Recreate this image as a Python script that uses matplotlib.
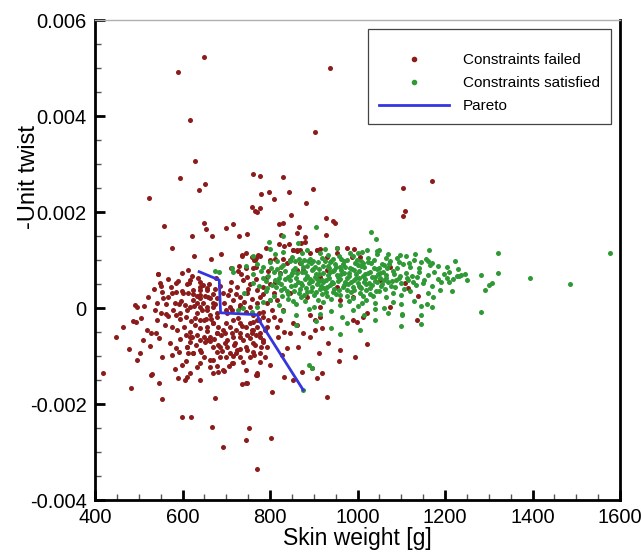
import numpy as np
import matplotlib
matplotlib.use("Agg")
import matplotlib.pyplot as plt
from matplotlib.lines import Line2D
from matplotlib.ticker import MultipleLocator, FixedLocator, FixedFormatter

# ---------------- data (skin weight [g], -unit twist in units of 1e-3) ----------------
failed = [
    # upper outliers
    (523, 2.30), (590, 4.92), (650, 5.22), (617, 3.92), (629, 3.07), (594, 2.70), (651, 2.58),
    (638, 2.46), (558, 1.70), (650, 1.78), (653, 1.64), (622, 1.49), (667, 1.51), (700, 1.67),
    (716, 1.76), (728, 1.51), (748, 1.54), (760, 2.79), (777, 2.76), (780, 2.37), (798, 2.42),
    (808, 2.27), (758, 2.11), (771, 1.99), (777, 2.08), (766, 2.03), (830, 2.72), (843, 2.42),
    (848, 1.94), (820, 1.76), (830, 1.78), (825, 1.53), (861, 1.56), (866, 1.69), (880, 1.48),
    (882, 2.19), (898, 2.48), (903, 3.67), (938, 4.99), (928, 1.88), (945, 1.81), (949, 1.78),
    (928, 1.52), (1103, 2.50), (1170, 2.65), (1109, 2.02), (1103, 1.91),
    # upper middle
    (820, 1.33), (831, 1.30), (844, 1.33), (870, 1.36), (880, 1.38), (907, 1.21), (952, 1.24),
    (975, 1.26), (991, 1.22), (853, 1.20), (862, 1.19), (576, 1.26), (627, 1.09), (665, 1.03),
    (688, 1.13), (735, 1.10), (758, 1.07), (777, 1.08), (791, 1.26), (869, 1.21), (891, 1.14),
    (914, 1.22), (930, 1.07), (987, 1.07), (1006, 1.07), (1074, 0.86), (736, 1.08), (744, 1.14),
    (763, 1.00), (767, 1.05), (730, 0.875), (711, 0.83), (726, 0.77), (746, 0.83), (762, 0.83),
    (769, 0.86), (544, 0.708), (549, 0.514), (551, 0.458), (590, 0.569), (599, 0.722),
    (543, 0.70), (622, 0.66),
    # right side
    (1135, -0.25), (1138, 0.26), (1116, 0.41), (1109, 0.52),
    # bottom outliers
    (599, -2.28), (620, -2.28), (667, -2.47), (752, -2.50), (744, -2.76), (802, -2.70),
    (692, -2.90), (771, -3.35), (554, -1.90), (674, -1.87), (547, -1.56),
    # left cluster
    (573, 0.43), (615, 0.514), (640, 0.55), (647, 0.48), (655, 0.41), (640, 0.375), (520, 0.236),
    (491, 0.063), (496, 0.028), (554, 0.34), (567, 0.236), (556, 0.20), (575, 0.305), (586, 0.34),
    (598, 0.36), (613, 0.305), (624, 0.29), (632, 0.25), (640, 0.20), (659, 0.236), (670, 0.29),
    (678, 0.20), (674, 0.39), (542, 0.10), (563, 0.09), (582, 0.11), (591, 0.08), (605, 0.063),
    (617, 0.028), (632, 0.097), (647, 0.10), (656, 0.028), (669, 0.014), (674, 0.09),
    (550, -0.111), (563, -0.12), (567, -0.167), (586, -0.146), (594, -0.236), (609, -0.18),
    (632, -0.111), (640, -0.25), (653, -0.236), (663, -0.146), (678, -0.111),
    (487, -0.264), (493, -0.299), (541, -0.25), (575, -0.389), (588, -0.458), (617, -0.493),
    (628, -0.354), (640, -0.424), (656, -0.389), (670, -0.306),
    (448, -0.597), (529, -0.528), (539, -0.528), (509, -0.667),
    (594, -0.653), (609, -0.563), (621, -0.597), (617, -0.701), (640, -0.667), (651, -0.701),
    (663, -0.681), (678, -0.528), (689, -0.563), (682, -0.771), (697, -0.736),
    (502, -0.944), (496, -1.083), (552, -1.014), (575, -0.979), (586, -0.84), (611, -0.806),
    (613, -0.944), (624, -0.944), (643, -0.910), (663, -1.083), (678, -0.910),
    (582, -1.27), (598, -1.187), (632, -1.222), (678, -1.208), (682, -1.326), (694, -1.306),
    (700, -1.014), (716, -1.0), (712, -1.139), (723, -0.944), (731, -0.861),
    (527, -1.396), (531, -1.382), (590, -1.451), (605, -1.5), (419, -1.361), (483, -1.674),
    (735, -1.583), (746, -1.57), (769, -1.396),
    (723, -0.458), (720, -0.736), (746, -0.806), (739, -1.118), (762, -0.91), (731, -0.597),
    (700, -0.32), (712, -0.528), (700, -0.042), (731, 0.063), (746, -0.076), (716, -0.25),
    (746, -0.389), (758, -0.458), (769, -0.563), (775, -0.25), (762, -0.146),
    (465, -0.40), (478, -0.85), (505, -0.20), (512, 0.05), (518, -0.45), (525, -0.80),
    (534, 0.40), (538, -0.05), (546, -0.62), (560, -0.35), (566, 0.60), (571, -0.72),
    (579, -0.05), (584, 0.52), (593, -0.92), (597, 0.15), (603, -0.40), (607, -1.10),
    (612, 0.80), (619, -0.28), (626, 0.05), (631, -0.78), (636, 0.62), (644, -0.05),
    (648, -1.02), (652, 0.26), (657, -0.48), (661, 0.50), (666, -0.22), (672, -0.65),
    (676, 0.62), (681, -0.40), (685, 0.45), (690, -0.90), (695, 0.10), (698, -0.52),
    (703, 0.28), (707, -1.20), (710, 0.55), (714, -0.05), (718, -0.78), (722, 0.30),
    (727, -0.20), (733, 0.70), (737, -0.38), (741, 0.12), (744, -1.30), (750, 0.40),
    (755, -0.62), (759, 0.18), (764, -0.98), (768, 0.60), (774, -0.10), (779, -0.82),
    (783, 0.30), (788, -0.45), (795, 0.78), (805, -0.05), (812, 0.55), (818, -0.60),
    # lower middle / right
    (762, -0.285), (770, -0.389), (758, -0.528), (777, -0.597), (766, -0.77), (785, -0.70),
    (789, -1.014), (777, -1.118), (800, -1.187), (770, -1.396), (804, -1.74), (831, -1.43),
    (838, -0.84), (827, -0.979), (853, -1.50), (872, -1.326), (895, -1.257), (918, -1.347),
    (907, -1.465), (930, -1.847), (911, -0.944), (933, -0.736), (960, -0.875), (958, -1.104),
    (994, -1.014), (1021, -0.75), (865, -0.806), (876, -0.528), (891, -0.597), (903, -0.458),
    (918, -0.424), (846, -0.528), (831, -0.493), (815, -0.389), (853, -0.32), (861, -0.354),
    (808, -0.18), (785, -0.076), (796, -0.25), (891, -0.146), (903, -0.25), (914, -0.18),
    (998, -0.285), (1013, -0.18),
    # central mixed zone
    (610, 0.51), (617, 0.58), (602, 0.31), (625, 0.375), (640, 0.445), (640, 0.27), (655, 0.375),
    (625, 0.167), (663, 0.20), (670, 0.097), (640, 0.028), (655, -0.042), (610, -0.042),
    (594, -0.111), (628, -0.215), (648, -0.25), (670, -0.32), (678, -0.18), (701, -0.111),
    (709, 0.028), (716, 0.167), (709, 0.375), (693, 0.306), (724, 0.445), (739, 0.58),
    (747, 0.65), (754, 0.51), (747, 0.306), (731, 0.236), (731, 0.028), (754, 0.028),
    (770, 0.097), (777, 0.236), (770, 0.375), (785, 0.445), (792, 0.65), (800, 0.51),
    (808, 0.306), (800, 0.167), (792, 0.097), (785, -0.18), (770, -0.25), (754, -0.32),
    (731, -0.32), (709, -0.389), (693, -0.458), (678, -0.528), (663, -0.597), (655, -0.667),
    (632, -0.56), (617, -0.597), (610, -0.806), (625, -0.944), (640, -0.875), (648, -0.597),
    (670, -0.806), (686, -0.806), (701, -0.667), (716, -0.597), (731, -0.528), (747, -0.56),
    (762, -0.458), (777, -0.528), (792, -0.389), (823, -0.25), (990, -0.25),
    (785, -0.667), (762, -0.736), (747, -0.875), (739, -0.667), (724, -0.875), (709, -0.944),
    (701, -0.806), (686, -1.014), (670, -1.083), (663, -1.222), (640, -1.153), (617, -1.36),
    (610, -1.43), (640, -1.50), (670, -1.36), (693, -1.29), (716, -1.153), (731, -1.014),
    (754, -1.014), (777, -0.944), (792, -0.806), (770, -1.36), (747, -1.57),
    # reds inside the feasible cloud
    (762, 1.07), (766, 1.00), (773, 1.10), (800, 1.00), (811, 1.03), (830, 1.03), (838, 0.93),
    (853, 1.21), (861, 1.21), (869, 0.93), (876, 0.79), (907, 1.21), (930, 0.79), (952, 1.14),
    (846, 1.00), (861, 0.79), (823, 0.72), (914, 0.65), (952, 0.445), (960, 0.167), (914, 0.028),
    (884, 0.236), (846, 0.306), (815, 0.167), (830, -0.042), (990, 0.236), (1021, -0.111),
    (1074, 0.028), (1006, 0.445), (1051, 0.58),
]

satisfied = [
    (798, 1.38), (800, 1.22), (865, 1.35), (884, 1.21), (926, 1.22), (952, 1.26), (983, 1.14),
    (1021, 1.21), (1031, 1.59), (1042, 1.44), (1045, 1.19), (1064, 1.04), (1044, 1.13),
    (1097, 1.10), (1128, 1.00), (1132, 1.12), (1157, 1.03), (1164, 1.21), (1162, 0.98),
    (1170, 0.93), (1222, 0.97), (1320, 1.14), (1578, 1.14), (904, 1.69), (830, 1.50), (830, 1.17),
    (891, 1.02), (933, 1.10), (1002, 1.14), (1025, 1.04), (1048, 1.21), (914, 1.14), (945, 1.02),
    (968, 0.97), (998, 1.01), (760, 1.08), (812, 1.12), (850, 1.06), (872, 1.15), (958, 1.09),
    (1010, 1.17), (1070, 1.12), (1090, 1.05), (1110, 1.08),
    (712, 0.83), (745, 0.88), (770, 0.92), (785, 0.85), (800, 0.95), (815, 0.82), (830, 0.90),
    (845, 0.97), (858, 0.84), (870, 0.93), (885, 0.88), (898, 0.81), (910, 0.96), (922, 0.87),
    (935, 0.83), (948, 0.92), (960, 0.86), (975, 0.99), (988, 0.82), (1000, 0.90), (1015, 0.85),
    (1030, 0.94), (1045, 0.81), (1060, 0.89), (1075, 0.97), (1090, 0.84), (1105, 0.92),
    (1120, 0.86), (1140, 0.83), (1165, 0.90), (1183, 0.88), (1205, 0.85), (1230, 0.82),
    (878, 0.99), (940, 0.97), (1008, 0.98),
    (674, 0.78), (684, 0.74), (716, 0.76), (762, 0.70), (780, 0.78), (795, 0.66), (808, 0.74),
    (820, 0.62), (835, 0.77), (848, 0.69), (860, 0.63), (872, 0.75), (884, 0.67), (896, 0.79),
    (908, 0.61), (920, 0.72), (932, 0.68), (944, 0.77), (956, 0.64), (968, 0.73), (980, 0.66),
    (992, 0.79), (1004, 0.62), (1016, 0.71), (1028, 0.76), (1040, 0.65), (1052, 0.73),
    (1066, 0.68), (1080, 0.77), (1095, 0.63), (1110, 0.72), (1125, 0.66), (1140, 0.75),
    (1160, 0.69), (1183, 0.60), (1209, 0.76), (1232, 0.67), (1245, 0.70), (1282, 0.69),
    (1320, 0.72), (1394, 0.63), (1227, 0.66), (1237, 0.68), (1204, 0.63), (850, 0.72),
    (905, 0.70), (962, 0.70), (1012, 0.66),
    (760, 0.52), (775, 0.45), (790, 0.57), (805, 0.48), (818, 0.55), (832, 0.42), (845, 0.58),
    (858, 0.47), (870, 0.53), (882, 0.41), (895, 0.56), (907, 0.49), (919, 0.59), (931, 0.44),
    (943, 0.52), (955, 0.57), (967, 0.43), (979, 0.50), (991, 0.58), (1003, 0.46), (1015, 0.54),
    (1028, 0.41), (1041, 0.57), (1055, 0.49), (1070, 0.55), (1085, 0.44), (1100, 0.52),
    (1116, 0.58), (1133, 0.47), (1150, 0.53), (1170, 0.45), (1210, 0.54), (1301, 0.48),
    (1307, 0.52), (1292, 0.38), (1486, 0.49), (825, 0.50), (880, 0.60), (938, 0.48),
    (1060, 0.59), (990, 0.44),
    (740, 0.32), (790, 0.35), (808, 0.26), (825, 0.38), (840, 0.29), (855, 0.36), (870, 0.22),
    (885, 0.33), (900, 0.27), (915, 0.39), (930, 0.24), (945, 0.34), (960, 0.28), (975, 0.37),
    (990, 0.21), (1005, 0.31), (1020, 0.38), (1035, 0.26), (1050, 0.35), (1066, 0.23),
    (1082, 0.32), (1100, 0.27), (1120, 0.36), (1161, 0.31), (1173, 0.22), (1189, 0.38),
    (1215, 0.35), (918, 0.30), (868, 0.40), (1012, 0.25),
    (770, 0.03), (785, 0.13), (800, 0.16), (820, 0.06), (840, 0.18), (860, 0.09), (880, 0.14),
    (900, 0.02), (920, 0.12), (940, 0.19), (960, 0.07), (980, 0.15), (1000, 0.04), (1020, 0.17),
    (1040, 0.10), (1060, 0.01), (1080, 0.13), (1100, 0.08), (1130, 0.15), (1158, 0.09),
    (1170, 0.02), (1146, 0.05), (910, 0.17), (1010, 0.11),
    (727, -0.04), (739, -0.01), (758, -0.08), (830, -0.06), (860, -0.15), (890, -0.03),
    (915, -0.12), (940, -0.07), (965, -0.18), (990, -0.05), (1015, -0.14), (1040, -0.02),
    (1070, -0.10), (1101, -0.12), (1146, -0.14), (1282, -0.08), (1101, -0.15),
    (860, -0.35), (905, -0.28), (940, -0.42), (975, -0.31), (1005, -0.46), (1040, -0.25),
    (1100, -0.38), (1144, -0.33), (888, -1.19), (895, -1.24), (876, -1.71), (960, -0.55),
    (826, 0.86), (842, 0.64), (856, 0.98), (864, 0.55), (876, 0.85), (889, 0.52), (893, 0.94),
    (902, 0.64), (912, 0.82), (916, 0.46), (925, 0.97), (928, 0.58), (937, 0.74), (946, 0.40),
    (951, 0.86), (959, 0.61), (966, 0.92), (972, 0.54), (983, 0.83), (986, 0.34), (996, 0.70),
    (1001, 0.52), (1007, 0.88), (1018, 0.61), (1023, 0.96), (1034, 0.48), (1037, 0.83),
    (1047, 0.70), (1057, 0.91), (1063, 0.40), (813, 0.44), (822, 0.70), (838, 0.35), (853, 0.80),
    (867, 0.32), (880, 0.76), (894, 0.36), (898, 0.98), (911, 0.56), (924, 0.42), (933, 0.88),
    (950, 0.30), (963, 0.79), (977, 0.63), (994, 0.93), (1026, 0.53), (1043, 0.36), (1052, 0.62),
    (1068, 0.84), (1078, 0.56),
    (785, 0.62), (792, 0.41), (803, 0.83), (811, 0.58), (817, 0.97), (828, 0.25), (834, 0.60),
    (849, 0.45), (852, 0.15), (861, 0.72), (866, 1.03), (874, 0.47), (878, 0.28), (886, 0.97),
    (891, 0.60), (897, 0.44), (903, 0.85), (906, 0.33), (913, 0.70), (918, 1.05), (921, 0.55),
    (927, 0.33), (934, 0.63), (936, 0.96), (942, 0.55), (947, 0.80), (953, 0.68), (957, 0.38),
    (962, 1.02), (969, 0.48), (971, 0.85), (976, 0.26), (981, 0.72), (985, 0.55), (989, 1.08),
    (993, 0.37), (997, 0.62), (1003, 0.78), (1009, 0.42), (1013, 0.93), (1019, 0.50),
    (1024, 0.73), (1029, 0.30), (1033, 0.64), (1038, 0.99), (1044, 0.55), (1049, 0.83),
    (1054, 0.45), (1059, 0.75), (1065, 0.62), (1071, 0.92), (1076, 0.46), (1083, 0.70),
    (1088, 0.58), (1094, 0.95), (1098, 0.66), (1106, 0.40), (1112, 0.62), (1118, 0.93),
    (1126, 0.54), (1136, 0.64), (1145, 0.95), (1152, 0.59), (1175, 0.74), (1190, 0.55),
    (1198, 0.70), (1218, 0.60), (1250, 0.58),
]

pareto_weight = [638, 684, 687, 771, 777, 876]
pareto_twist = [0.756, 0.583, -0.10, -0.14, -0.285, -1.71]

x_ticks = [400, 600, 800, 1000, 1200, 1400, 1600]
y_ticks = [-0.004, -0.002, 0.0, 0.002, 0.004, 0.006]
y_tick_labels = ["-0.004", "-0.002", "0", "0.002", "0.004", "0.006"]
legend_labels = ["Constraints failed", "Constraints satisfied", "Pareto"]

RED = "#8c1c1c"
GREEN = "#2f9a35"
BLUE = "#3535e0"

# ---------------- plot ----------------
plt.rcParams["font.family"] = ["Liberation Sans", "DejaVu Sans"]

fig = plt.figure(figsize=(6.41, 5.52), dpi=100)
ax = fig.add_axes([95 / 641, 1 - 500 / 552, 525 / 641, 480 / 552])

fw = np.array([p[0] for p in failed], dtype=float)
ft = np.array([p[1] for p in failed], dtype=float) * 1e-3
sw = np.array([p[0] for p in satisfied], dtype=float)
st = np.array([p[1] for p in satisfied], dtype=float) * 1e-3

ax.scatter(fw, ft, s=13, marker="o", c=RED, linewidths=0, zorder=2)
ax.scatter(sw, st, s=13, marker="o", c=GREEN, linewidths=0, zorder=3)
ax.plot(pareto_weight, np.array(pareto_twist) * 1e-3, color=BLUE, lw=2.0, zorder=4)

ax.set_xlim(400, 1600)
ax.set_ylim(-0.004, 0.006)
ax.xaxis.set_major_locator(FixedLocator(x_ticks))
ax.xaxis.set_minor_locator(MultipleLocator(50))
ax.yaxis.set_major_locator(FixedLocator(y_ticks))
ax.yaxis.set_major_formatter(FixedFormatter(y_tick_labels))
ax.yaxis.set_minor_locator(MultipleLocator(0.0005))

ax.tick_params(which="major", direction="in", length=7, width=2, top=False, right=False,
               labelsize=14.5, pad=6, colors="black")
ax.tick_params(which="minor", direction="in", length=4, width=1, top=False, right=False,
               color="#555555")

for side in ["left", "bottom", "right"]:
    ax.spines[side].set_linewidth(2)
    ax.spines[side].set_color("black")
ax.spines["top"].set_linewidth(1)
ax.spines["top"].set_color("#b0b0b0")

ax.set_xlabel("Skin weight [g]", fontsize=16.5)
ax.xaxis.set_label_coords(0.5, -0.056)
ax.set_ylabel("-Unit twist", fontsize=17)
ax.yaxis.set_label_coords(-0.104, 0.672)

handles = [
    Line2D([], [], marker="o", ls="none", color=RED, ms=3),
    Line2D([], [], marker="o", ls="none", color=GREEN, ms=3),
    Line2D([], [], color=BLUE, lw=2),
]
leg = ax.legend(handles, legend_labels, loc="upper right", borderaxespad=0.6, fontsize=11,
                handlelength=4.6, handletextpad=0.9, labelspacing=0.6, numpoints=1,
                fancybox=False, edgecolor="#444444", framealpha=1, borderpad=0.7,
                title=" ", title_fontsize=3)
leg.get_frame().set_linewidth(0.9)

fig.savefig("out.png", dpi=100)
